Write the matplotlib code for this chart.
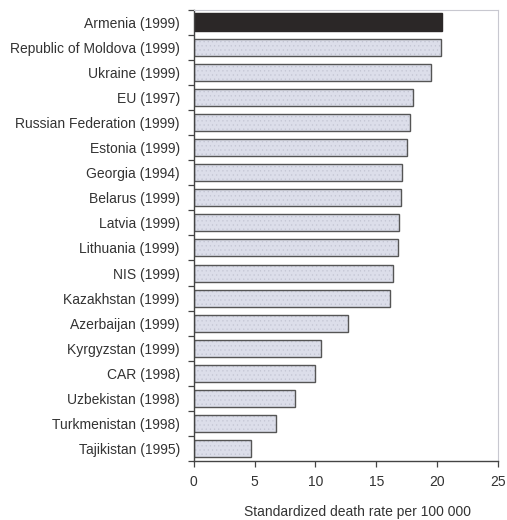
import matplotlib
matplotlib.use("Agg")
import matplotlib.pyplot as plt
import numpy as np

plt.rcParams['font.family'] = ['Liberation Sans', 'DejaVu Sans']
plt.rcParams['hatch.linewidth'] = 0.4

countries = [
    "Armenia (1999)", "Republic of Moldova (1999)", "Ukraine (1999)", "EU (1997)",
    "Russian Federation (1999)", "Estonia (1999)", "Georgia (1994)", "Belarus (1999)",
    "Latvia (1999)", "Lithuania (1999)", "NIS (1999)", "Kazakhstan (1999)",
    "Azerbaijan (1999)", "Kyrgyzstan (1999)", "CAR (1998)", "Uzbekistan (1998)",
    "Turkmenistan (1998)", "Tajikistan (1995)",
]
rates = [20.4, 20.3, 19.5, 18.0, 17.8, 17.5, 17.1, 17.0, 16.9, 16.8, 16.4, 16.1,
         12.7, 10.5, 10.0, 8.3, 6.8, 4.7]
highlight = "Armenia (1999)"
x_ticks = [0, 5, 10, 15, 20, 25]

fig = plt.figure(figsize=(5.07, 5.20), dpi=100)
ax = fig.add_axes([0.382, 0.1135, 0.600, 0.8675])

pos = np.arange(len(countries))
for i, (name, val) in enumerate(zip(countries, rates)):
    if name == highlight:
        ax.barh(i, val, height=0.72, color="#2b2727", edgecolor="#2b2727", linewidth=1.0)
    else:
        # light fill with a fine dotted texture, then a dark outline on top
        ax.barh(i, val, height=0.68, color="#dcdeea", edgecolor="#c2c4d2",
                linewidth=0, hatch="....")
        ax.barh(i, val, height=0.68, fill=False, edgecolor="#555555", linewidth=1.0)

ax.set_ylim(len(countries) - 0.5, -0.5)
ax.set_xlim(0, 25)
ax.set_xticks(x_ticks)
ax.set_xticklabels([str(t) for t in x_ticks], fontsize=10, color="#333333")

ax.set_yticks(pos)
ax.set_yticklabels(countries, fontsize=10, color="#333333")
ax.tick_params(axis='y', which='major', length=0, pad=10)
ax.set_yticks(np.arange(-0.5, len(countries) + 0.5, 1), minor=True)
ax.tick_params(axis='y', which='minor', length=4, direction='out', color="#444444", width=0.9)
ax.tick_params(axis='x', length=4, direction='out', color="#444444", width=0.9, pad=6)

for side in ('left', 'bottom'):
    ax.spines[side].set_color("#444444")
    ax.spines[side].set_linewidth(1.0)
for side in ('top', 'right'):
    ax.spines[side].set_color("#c8c8d0")
    ax.spines[side].set_linewidth(0.8)

fig.text(357 / 507, 1 - 512 / 520, "Standardized death rate per 100 000",
         fontsize=10, color="#333333", ha="center", va="center")

fig.savefig("out.png", dpi=100)
